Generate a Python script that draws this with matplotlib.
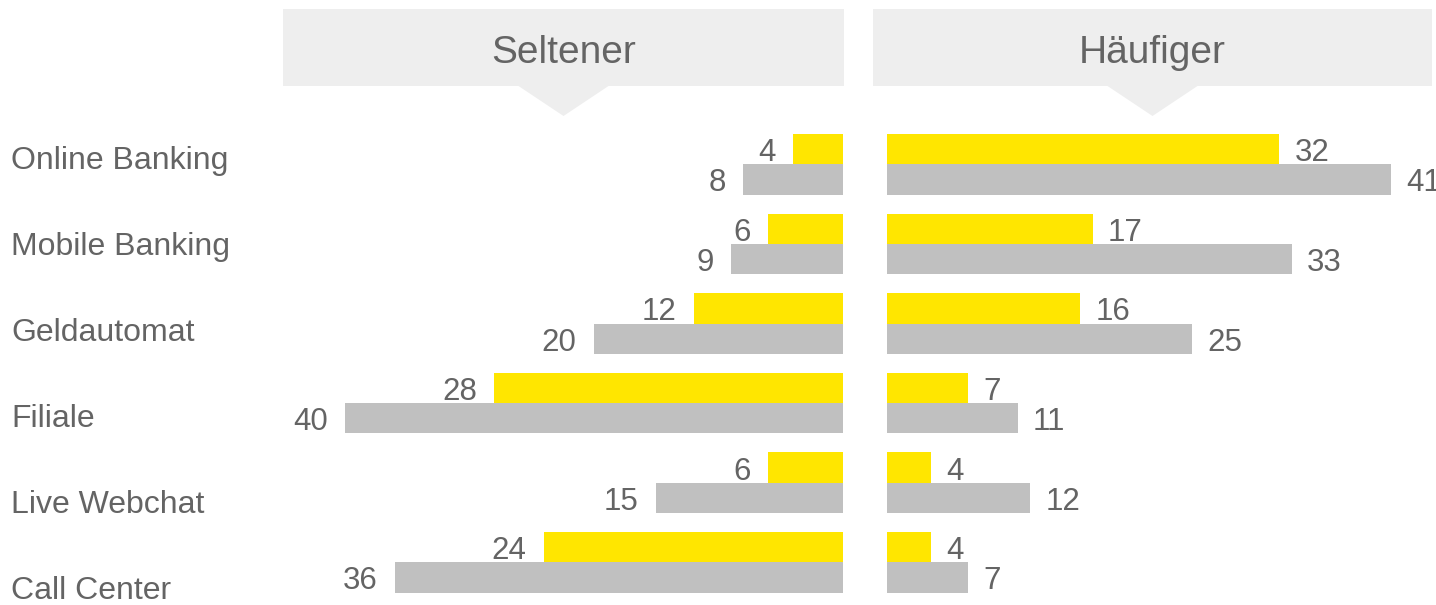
import matplotlib
matplotlib.use("Agg")
import matplotlib.pyplot as plt
from matplotlib.patches import Rectangle, Polygon

plt.rcParams['font.family'] = ['Liberation Sans', 'DejaVu Sans']

categories = ["Online Banking", "Mobile Banking", "Geldautomat", "Filiale", "Live Webchat", "Call Center"]
seltener_yellow = [4, 6, 12, 28, 6, 24]
seltener_gray = [8, 9, 20, 40, 15, 36]
haeufiger_yellow = [32, 17, 16, 7, 4, 4]
haeufiger_gray = [41, 33, 25, 11, 12, 7]
headers = ["Seltener", "Häufiger"]

YELLOW = "#FFE600"
GRAY = "#C0C0C0"
TEXT = "#646464"
BOX = "#EEEEEE"

W, H = 1436, 605
fig = plt.figure(figsize=(W / 100, H / 100), dpi=100)

def fx(px):
    return px / W

def fy(py):
    return 1 - py / H

# axes vertical extents (pixel), row pitch 79.6 px, first row boundary 164.3 px
top_px, bot_px = 120, 605
pitch, row0 = 79.6, 164.3
ylim = ((bot_px - row0) / pitch, (top_px - row0) / pitch)
bh = 30.3 / pitch

scale = 12.45  # px per unit
# left axes: zero at px 843
lx0, lx1 = 283, 843
axL = fig.add_axes([fx(lx0), fy(bot_px), fx(lx1 - lx0), (bot_px - top_px) / H])
axL.set_xlim((lx1 - lx0) / scale, 0)
# right axes: zero at px ~881, visible from 887
rx0, rx1 = 887, 1432
r_zero = 881
axR = fig.add_axes([fx(rx0), fy(bot_px), fx(rx1 - rx0), (bot_px - top_px) / H])
axR.set_xlim((rx0 - r_zero) / scale, (rx1 - r_zero) / scale)

NUM_FS = 22.5
n = len(categories)
ys = list(range(n))
for ax, yv, gv, side, gap in [(axL, seltener_yellow, seltener_gray, -1, 17.5),
                              (axR, haeufiger_yellow, haeufiger_gray, 1, 15)]:
    ax.set_ylim(*ylim)
    ax.barh([y - bh / 2 for y in ys], yv, height=bh, color=YELLOW, linewidth=0)
    ax.barh([y + bh / 2 for y in ys], gv, height=bh, color=GRAY, linewidth=0)
    ax.axis("off")
    for y, v in zip(ys, yv):
        ax.annotate(str(v), xy=(v, y - bh / 2), xytext=(side * gap * 0.72, -12 * 0.72),
                    textcoords="offset points", ha="left" if side > 0 else "right",
                    va="baseline", fontsize=NUM_FS, color=TEXT, annotation_clip=False)
    for y, v in zip(ys, gv):
        ax.annotate(str(v), xy=(v, y + bh / 2), xytext=(side * gap * 0.72, -12 * 0.72),
                    textcoords="offset points", ha="left" if side > 0 else "right",
                    va="baseline", fontsize=NUM_FS, color=TEXT, annotation_clip=False)

# category labels
for i, c in enumerate(categories):
    fig.text(fx(11), fy(168.5 + 86.1 * i), c, ha="left", va="baseline", fontsize=23, color=TEXT)

# header boxes with pointers
for (x0, x1), label in zip([(283, 844), (873, 1432)], headers):
    cx = (x0 + x1) / 2
    fig.patches.append(Rectangle((fx(x0), fy(86)), fx(x1 - x0), (86 - 9.3) / H,
                                 transform=fig.transFigure, facecolor=BOX, edgecolor="none"))
    fig.patches.append(Polygon([(fx(cx - 45), fy(86)), (fx(cx + 45), fy(86)), (fx(cx), fy(116))],
                               closed=True, transform=fig.transFigure, facecolor=BOX, edgecolor="none"))
    fig.text(fx(cx), fy(62.7), label, ha="center", va="baseline", fontsize=28, color=TEXT)

fig.savefig("out.png", dpi=100)
